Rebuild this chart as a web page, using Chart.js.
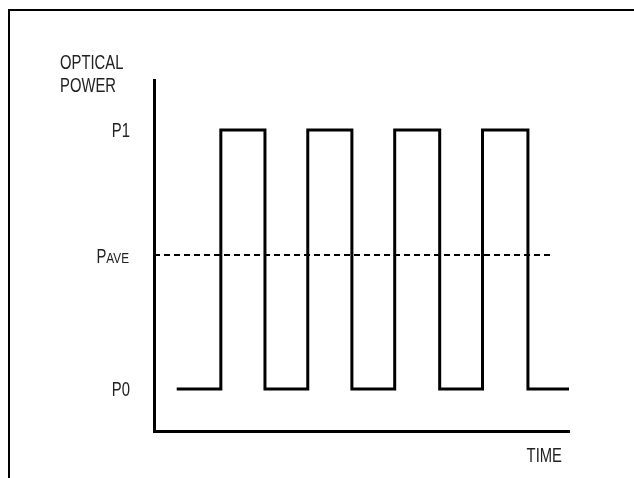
<!DOCTYPE html>
<html>
<head>
<meta charset="utf-8">
<script src="https://cdn.jsdelivr.net/npm/chart.js@4.4.1/dist/chart.umd.min.js"></script>
<style>
  html, body { margin: 0; padding: 0; background: #fff; }
  #wrap { width: 634px; height: 478px; }
</style>
</head>
<body>
<div id="wrap"><canvas id="powerChart" width="634" height="478"></canvas></div>
<script>
// time of the pulse edges (arbitrary units, one period = 2)
const startTime = 0.52;
const endTime = 9.5;
const riseTimes = [1.53, 3.52, 5.51, 7.52];
const fallTimes = [2.54, 4.53, 6.54, 8.56];
const aveEnd = 9.07;

// power levels
const levelP0 = 0;
const levelP1 = 1;
const levelAve = 0.517;
const tickValues = [levelP0, levelAve, levelP1];
const tickLabels = ['P0', 'P|AVE', 'P1'];

const FONT = '"Liberation Sans", Arial, sans-serif';
const INK = '#222';
const SQUEEZE = 0.76; // narrow the face to look like a condensed font

// build the square wave from the edges
let wave = [{ x: startTime, y: levelP0 }];
riseTimes.forEach((t, i) => {
    wave.push({ x: t, y: levelP0 });
    wave.push({ x: t, y: levelP1 });
    wave.push({ x: fallTimes[i], y: levelP1 });
    wave.push({ x: fallTimes[i], y: levelP0 });
});
wave.push({ x: endTime, y: levelP0 });

const aveLine = [{ x: 0, y: levelAve }, { x: aveEnd, y: levelAve }];

function narrowText(ctx, text, x, y, size, align) {
    ctx.save();
    ctx.font = size + 'px ' + FONT;
    ctx.textAlign = align;
    ctx.textBaseline = 'alphabetic';
    ctx.translate(x, y);
    ctx.scale(SQUEEZE, 1);
    ctx.fillText(text, 0, 0);
    const w = ctx.measureText(text).width * SQUEEZE;
    ctx.restore();
    return w;
}

const frameAndText = {
    id: 'frameAndText',
    beforeDraw(chart) {
        const ctx = chart.ctx;
        ctx.save();
        ctx.fillStyle = '#000';
        ctx.fillRect(8, 9, chart.width - 8, 2);
        ctx.fillRect(8, 9, 2, chart.height - 9);
        ctx.restore();
    },
    afterDraw(chart) {
        const ctx = chart.ctx;
        const area = chart.chartArea;
        const y = chart.scales.y;
        ctx.save();
        ctx.fillStyle = INK;

        // y axis caption
        narrowText(ctx, 'OPTICAL', area.left - 94, 69, 19.5, 'left');
        narrowText(ctx, 'POWER', area.left - 94, 92, 19.5, 'left');

        // level labels
        const right = area.left - 25;
        tickValues.forEach((v, i) => {
            const py = y.getPixelForValue(v);
            const parts = tickLabels[i].split('|');
            if (parts.length > 1) {
                const w = narrowText(ctx, parts[1], right, py + 8, 15.5, 'right');
                narrowText(ctx, parts[0], right - w, py + 8, 19.5, 'right');
            } else {
                narrowText(ctx, parts[0], right + 1, py + 7, 19.5, 'right');
            }
        });

        // x axis caption
        narrowText(ctx, 'TIME', area.right - 7, area.bottom + 31, 19.5, 'right');
        ctx.restore();
    }
};

new Chart(document.getElementById('powerChart'), {
    type: 'line',
    data: {
        datasets: [{
            label: 'signal',
            data: wave,
            borderColor: '#000',
            borderWidth: 3,
            borderJoinStyle: 'miter',
            pointRadius: 0,
            tension: 0,
            clip: false
        }, {
            label: 'average',
            data: aveLine,
            borderColor: '#000',
            borderWidth: 2,
            borderDash: [6, 4],
            pointRadius: 0,
            tension: 0
        }]
    },
    options: {
        responsive: false,
        animation: false,
        devicePixelRatio: 1,
        layout: { padding: { top: 80, right: 65, left: 0, bottom: 0 } },
        plugins: {
            legend: { display: false },
            tooltip: { enabled: false }
        },
        scales: {
            x: {
                type: 'linear',
                min: 0,
                max: endTime,
                grid: { display: false },
                border: { display: true, color: '#000', width: 3 },
                ticks: { display: false },
                afterFit(scale) { scale.height = 47; }
            },
            y: {
                type: 'linear',
                min: -0.162,
                max: 1.193,
                grid: { display: false },
                border: { display: true, color: '#000', width: 3 },
                afterBuildTicks(scale) {
                    scale.ticks = tickValues.map(v => ({ value: v }));
                },
                ticks: { display: false },
                afterFit(scale) { scale.width = 154; }
            }
        }
    },
    plugins: [frameAndText]
});
</script>
</body>
</html>
